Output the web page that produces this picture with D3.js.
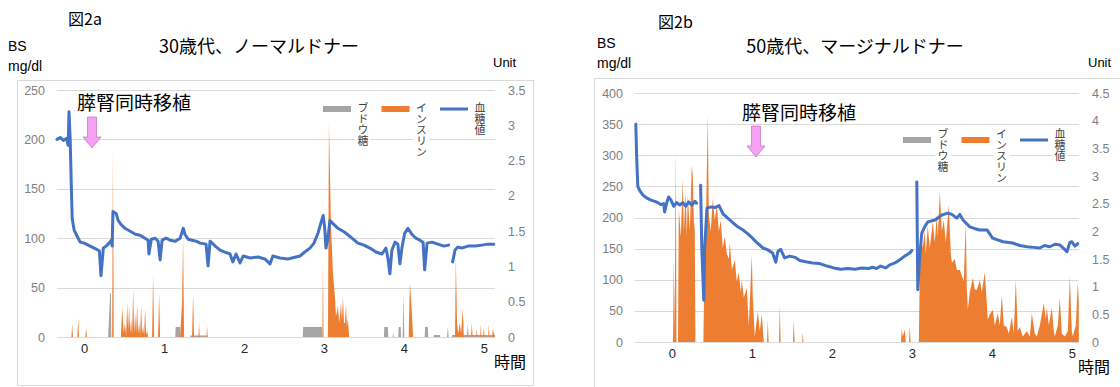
<!DOCTYPE html>
<html>
<head>
<meta charset="utf-8">
<script src="https://cdn.jsdelivr.net/npm/d3@7"></script>
<style>
  body { margin: 0; background: #fff; }
  svg { display: block; }
  .jp { font-family: "Noto Sans CJK JP", sans-serif; }
  .lat { font-family: "Liberation Sans", Arial, sans-serif; }
  .vert { writing-mode: vertical-rl; }
</style>
</head>
<body>
<svg id="chart" width="1120" height="387"></svg>
<script>
// ---- data (time in 時間, BS in mg/dl, insulin / glucose in Unit) ----
const timeTicks = [0, 1, 2, 3, 4, 5];
const bsTicksA = [0, 50, 100, 150, 200, 250];
const unitTicksA = [0, 0.5, 1, 1.5, 2, 2.5, 3, 3.5];
const bsTicksB = [0, 50, 100, 150, 200, 250, 300, 350, 400];
const unitTicksB = [0, 0.5, 1, 1.5, 2, 2.5, 3, 3.5, 4, 4.5];
const legendLabels = ['ブドウ糖', 'インスリン', '血糖値'];

// 図2a  30歳代、ノーマルドナー
const bloodSugarA = [
  [-0.34,200],[-0.30,202],[-0.26,199],[-0.22,201],[-0.20,194],[-0.19,228],[-0.175,200],[-0.16,150],[-0.15,120],
  [-0.125,108],[-0.10,104],[-0.075,100],[-0.05,96],[0,95],[0.05,93],[0.10,91],[0.15,89],[0.19,87],[0.21,62],
  [0.24,90],[0.275,92],[0.31,95],[0.34,98],[0.35,92],[0.36,127],[0.40,125],[0.425,118],[0.46,114],[0.51,110],
  [0.575,107],[0.64,104],[0.70,103],[0.76,100],[0.80,98],[0.81,84],[0.84,99],[0.89,100],[0.925,97],[0.95,78],
  [0.975,98],[1.025,100],[1.075,98],[1.14,97],[1.2,100],[1.24,110],[1.26,104],[1.3,99],[1.35,98],[1.4,97],
  [1.45,95],[1.525,94],[1.55,72],[1.575,97],[1.64,92],[1.7,88],[1.76,86],[1.825,84],[1.86,76],[1.9,84],
  [1.95,75],[1.99,82],[2.075,80],[2.175,81],[2.26,79],[2.325,74],[2.36,82],[2.45,80],[2.55,79],[2.65,81],
  [2.7,82],[2.76,86],[2.825,90],[2.875,95],[2.925,105],[2.96,115],[2.99,123],[3.01,110],[3.025,90],[3.05,100],
  [3.075,118],[3.11,115],[3.175,110],[3.26,106],[3.35,100],[3.425,95],[3.5,93],[3.575,90],[3.65,86],[3.725,84],
  [3.775,90],[3.8,80],[3.825,64],[3.85,88],[3.89,96],[3.925,94],[3.95,74],[3.975,90],[4.01,105],[4.05,110],
  [4.1,104],[4.15,100],[4.2,98],[4.24,96],[4.26,68],[4.29,95],[4.35,96],[4.425,94],[4.5,92],[4.56,93],
  [4.59,null],[4.61,76],[4.64,88],[4.675,91],[4.725,90],[4.8,92],[4.89,92],[4.975,93],[5.05,94],[5.125,94]
];
const insulinA = [
  [-0.34,0],[-0.16,0],[-0.15,0.18],[-0.14,0],[-0.085,0],[-0.075,0.27],[-0.065,0],[0.015,0],[0.025,0.13],[0.035,0],
  [0.35,0],[0.36,2.62],[0.37,0],
  [0.46,0],[0.475,0.42],[0.495,0.05],[0.51,0.2],[0.525,0.02],[0.5375,0.48],[0.55,0.1],[0.5625,0.44],[0.575,0.05],
  [0.5875,0.25],[0.6,0.03],[0.6125,0.68],[0.625,0.05],[0.6375,0.34],[0.65,0.05],[0.6625,0.45],[0.675,0.05],
  [0.6875,0.2],[0.7,0.02],[0.7125,0.45],[0.725,0.05],[0.7375,0.15],[0.75,0.02],[0.7625,0.4],[0.775,0.03],
  [0.7875,0.1],[0.8,0],
  [0.85,0],[0.8625,0.9],[0.875,0],[0.925,0],[0.9375,0.62],[0.95,0],
  [1.2,0],[1.225,0.5],[1.2375,1.42],[1.25,0],[1.35,0],[1.3625,0.62],[1.375,0],[1.43,0],[1.4375,0.21],[1.445,0],
  [1.53,0],[1.5375,0.16],[1.545,0],
  [2.98,0],[2.9875,1.05],[2.995,0],[3.05,0],[3.0625,3.03],[3.0875,1.6],[3.1125,0.9],[3.1375,0.57],[3.15,0.3],
  [3.1625,0.35],[3.175,0.45],[3.19,0.2],[3.2,0.3],[3.2125,0.48],[3.225,0.25],[3.2375,0.57],[3.25,0.2],
  [3.2625,0.2],[3.275,0.45],[3.2875,0.15],[3.3,0.26],[3.315,0],
  [4.06,0],[4.075,0.76],[4.1,0.35],[4.115,0],
  [4.64,0],[4.65,1.12],[4.665,0.2],[4.68,0.05],[4.7,0.2],[4.715,0.05],[4.7375,0.4],[4.75,0],[4.79,0],[4.8,0.18],
  [4.81,0],[4.84,0],[4.85,0.2],[4.86,0],[4.905,0],[4.9125,0.12],[4.92,0],[4.955,0],[4.9625,0.18],[4.97,0],
  [4.99,0],[5.0,0.12],[5.01,0],[5.055,0],[5.0625,0.18],[5.07,0],[5.105,0],[5.1125,0.12],[5.125,0.05],[5.14,0]
];
const glucoseA = [
  [-0.34,0],[0.3,0],[0.325,0.62],[0.335,0.62],[0.34,0],
  [1.14,0],[1.145,0.14],[1.2,0.14],[1.205,0],[1.325,0],[1.33,0.02],[1.535,0.02],[1.54,0],
  [2.735,0],[2.74,0.14],[2.975,0.14],[2.98,0],
  [3.75,0],[3.755,0.14],[3.8,0.14],[3.805,0],[3.86,0],[3.865,0.06],[3.875,0],
  [3.93,0],[3.935,0.14],[3.96,0.14],[3.965,0],[3.985,0],[3.995,0.62],[4.005,0],
  [4.26,0],[4.265,0.14],[4.3,0.14],[4.305,0],[4.37,0],[4.375,0.03],[4.45,0.03],[4.455,0],
  [4.54,0],[4.55,0.14],[4.56,0],[4.6,0],[4.605,0.03],[5.14,0.03]
];

// 図2b  50歳代、マージナルドナー
const bloodSugarB = [
  [-0.45,350],[-0.44,300],[-0.425,250],[-0.40,243],[-0.36,236],[-0.31,231],[-0.26,228],[-0.21,226],[-0.175,224],
  [-0.14,221],[-0.10,222],[-0.09,209],[-0.06,225],[-0.04,233],[-0.01,228],[0.025,218],[0.06,224],[0.10,220],
  [0.14,224],[0.175,218],[0.21,225],[0.25,220],[0.29,226],[0.31,223],[0.335,null],[0.36,252],[0.375,150],
  [0.40,67],[0.41,150],[0.44,215],[0.49,217],[0.54,216],[0.59,219],[0.64,206],[0.70,199],[0.76,192],[0.825,185],
  [0.89,180],[0.94,175],[1.0,168],[1.06,160],[1.14,151],[1.2,148],[1.26,143],[1.3,128],[1.325,145],[1.36,149],
  [1.41,135],[1.475,138],[1.54,136],[1.6,131],[1.675,129],[1.76,127],[1.85,126],[1.94,122],[2.025,119],
  [2.11,117],[2.2,118],[2.29,117],[2.375,119],[2.46,118],[2.51,120],[2.56,118],[2.61,122],[2.675,119],
  [2.725,124],[2.79,127],[2.85,132],[2.91,138],[2.975,143],[3.0,147],[3.03,null],[3.0625,257],[3.075,84],
  [3.1,140],[3.125,175],[3.16,185],[3.2,193],[3.29,196],[3.375,204],[3.45,207],[3.5,205],[3.5625,199],[3.6,205],
  [3.64,196],[3.725,185],[3.79,182],[3.85,180],[3.94,180],[4.01,167],[4.14,161],[4.26,159],[4.35,155],
  [4.44,153],[4.525,152],[4.6,151],[4.66,155],[4.725,153],[4.79,157],[4.85,156],[4.9,150],[4.94,145],
  [4.975,160],[5.0,161],[5.04,154],[5.075,158]
];
const insulinB = [
  [-0.46,0],[0.015,0],[0.025,1.5],[0.035,0.2],[0.05,3.5],[0.058,0],[0.078,0],[0.0875,2.4],[0.1125,1.9],
  [0.1375,2.93],[0.15,2.0],[0.175,2.7],[0.1875,1.9],[0.2,2.66],[0.225,2.0],[0.25,3.2],[0.2625,3.0],[0.275,2.2],
  [0.2875,2.0],[0.295,0],
  [0.395,0],[0.41,1.6],[0.425,2.0],[0.45,4.1],[0.4625,2.3],[0.4875,2.0],[0.5125,2.6],[0.5375,2.2],[0.5625,2.5],
  [0.5875,2.0],[0.6125,2.2],[0.6375,1.7],[0.6625,1.9],[0.6875,1.6],[0.7125,1.5],[0.725,1.8],[0.75,1.3],
  [0.7875,1.48],[0.8125,1.1],[0.8375,1.25],[0.8625,0.9],[0.875,1.12],[0.9,0.8],[0.9375,0.97],[0.9625,0.3],
  [1.0,1.57],[1.0125,0.8],[1.0375,0.1],[1.075,0.55],[1.1,0.2],[1.125,0.5],[1.15,0],[1.19,0],[1.2,0.4],[1.21,0],
  [1.34,0],[1.35,0.67],[1.36,0],[1.515,0],[1.525,0.4],[1.535,0],[1.63,0],[1.6375,0.18],[1.645,0],
  [2.865,0],[2.875,0.25],[2.8875,0.1],[2.9125,0.22],[2.925,0],[2.965,0],[2.975,0.3],[2.985,0],
  [3.0875,0],[3.1,1.2],[3.1125,1.9],[3.1375,1.7],[3.1625,2.0],[3.175,1.6],[3.2,2.1],[3.225,1.7],[3.2625,2.17],
  [3.2875,1.8],[3.3125,2.3],[3.325,1.9],[3.35,2.71],[3.375,2.0],[3.4,2.2],[3.425,1.8],[3.4625,2.48],[3.4875,1.6],
  [3.5,1.43],[3.5375,1.5],[3.5625,1.3],[3.6,1.3],[3.625,1.2],[3.65,1.1],[3.675,2.17],[3.6875,1.0],[3.7,0.58],
  [3.725,0.9],[3.7625,1.16],[3.7875,0.95],[3.8125,0.94],[3.85,1.12],[3.875,0.9],[3.9125,1.26],[3.9375,0.7],
  [3.95,0.4],[3.975,0.5],[4.0125,0.58],[4.0375,0.3],[4.075,0.52],[4.1,0.3],[4.125,0.85],[4.15,0.3],[4.1875,0.27],
  [4.2125,0.15],[4.25,0.45],[4.275,0.15],[4.3,1.12],[4.325,0.2],[4.35,0.27],[4.3875,0.1],[4.4375,0.2],[4.475,0.1],
  [4.5,0.52],[4.5375,0.15],[4.5625,0.1],[4.6,0.3],[4.65,0.7],[4.675,0.4],[4.6875,0.63],[4.7125,0.3],[4.75,0.62],
  [4.775,0.2],[4.7875,0.1],[4.825,0.3],[4.85,0.8],[4.875,0.15],[4.9125,0.1],[4.95,0.2],[4.975,1.18],[5.0,0.2],
  [5.0125,0.1],[5.05,0.3],[5.075,1.08],[5.0875,0.7]
];
const glucoseB = [];

// ---- layout ----
const panels = [
  {
    figLabel: '図2a', figPos: [68, 25], title: '30歳代、ノーマルドナー', titleX: 259,
    bsPos: [8, 51], unitPos: [493, 67],
    frame: [17, 80, 516, 305], xRange: [57, 495], yRange: [337, 90],
    xDomain: [-0.34, 5.14], bsMax: 250, unitMax: 3.5,
    bsTicks: bsTicksA, unitTicks: unitTicksA,
    bloodSugar: bloodSugarA, insulin: insulinA, glucose: glucoseA,
    notePos: [77, 110], arrow: [92, 117, 148],
    legend: [323, 109, 102]
  },
  {
    figLabel: '図2b', figPos: [658, 28], title: '50歳代、マージナルドナー', titleX: 855,
    bsPos: [597, 48], unitPos: [1088, 67],
    frame: [594, 78, 540, 320], xRange: [635, 1079], yRange: [342, 93],
    xDomain: [-0.46, 5.09], bsMax: 400, unitMax: 4.5,
    bsTicks: bsTicksB, unitTicks: unitTicksB,
    bloodSugar: bloodSugarB, insulin: insulinB, glucose: glucoseB,
    notePos: [742, 120], arrow: [756, 126, 157],
    legend: [903, 140, 128]
  }
];

const COLORS = { blue: '#4472C4', orange: '#ED7D31', gray: '#A5A5A5', grid: '#d9d9d9', frame: '#d9d9d9' };
const svg = d3.select('#chart');

function drawPanel(p) {
  const g = svg.append('g');
  const x = d3.scaleLinear().domain(p.xDomain).range(p.xRange);
  const yBS = d3.scaleLinear().domain([0, p.bsMax]).range(p.yRange);
  const yU = d3.scaleLinear().domain([0, p.unitMax]).range(p.yRange);

  // frame
  g.append('rect')
    .attr('x', p.frame[0] + 0.5).attr('y', p.frame[1] + 0.5)
    .attr('width', p.frame[2]).attr('height', p.frame[3])
    .attr('fill', 'none').attr('stroke', COLORS.frame);

  // header texts
  g.append('text').attr('class', 'jp').attr('x', p.figPos[0]).attr('y', p.figPos[1])
    .attr('font-size', 16).attr('fill', '#000').text(p.figLabel);
  g.append('text').attr('class', 'jp').attr('x', p.titleX).attr('y', 53)
    .attr('text-anchor', 'middle').attr('font-size', 18).attr('fill', '#000').text(p.title);
  g.append('text').attr('class', 'lat').attr('x', p.bsPos[0]).attr('y', p.bsPos[1])
    .attr('font-size', 14).attr('fill', '#000').text('BS');
  g.append('text').attr('class', 'lat').attr('x', p.bsPos[0]).attr('y', p.bsPos[1] + 20)
    .attr('font-size', 14).attr('fill', '#000').text('mg/dl');
  g.append('text').attr('class', 'lat').attr('x', p.unitPos[0]).attr('y', p.unitPos[1])
    .attr('font-size', 13).attr('fill', '#000').text('Unit');

  // gridlines
  g.append('g').selectAll('line').data(p.bsTicks).join('line')
    .attr('x1', p.xRange[0]).attr('x2', p.xRange[1])
    .attr('y1', d => Math.round(yBS(d)) + 0.5).attr('y2', d => Math.round(yBS(d)) + 0.5)
    .attr('stroke', COLORS.grid);

  // axes
  const leftAxis = g.append('g').attr('transform', `translate(${p.xRange[0]},0)`)
    .call(d3.axisLeft(yBS).tickValues(p.bsTicks).tickSize(0).tickPadding(12));
  const rightAxis = g.append('g').attr('transform', `translate(${p.xRange[1]},0)`)
    .call(d3.axisRight(yU).tickValues(p.unitTicks).tickSize(0).tickPadding(13).tickFormat(d => String(d)));
  const bottomAxis = g.append('g').attr('transform', `translate(0,${p.yRange[0]})`)
    .call(d3.axisBottom(x).tickValues(timeTicks).tickSize(0).tickPadding(7).tickFormat(d => String(d)));
  [leftAxis, rightAxis, bottomAxis].forEach(a => {
    a.select('.domain').remove();
    a.selectAll('text').attr('font-family', '"Liberation Sans", Arial, sans-serif').attr('font-size', 12.5);
  });
  leftAxis.selectAll('text').attr('fill', '#7f7f7f');
  rightAxis.selectAll('text').attr('fill', '#7f7f7f');
  bottomAxis.selectAll('text').attr('fill', '#262626').attr('font-size', 13);

  g.append('text').attr('class', 'jp').attr('x', p.xRange[1] - 1).attr('y', p.yRange[0] + 31)
    .attr('font-size', 16).attr('fill', '#000').text('時間');

  // series
  const area = d3.area().x(d => x(d[0])).y0(yU(0)).y1(d => yU(d[1]));
  if (p.glucose.length) {
    g.append('path').datum(p.glucose).attr('d', area).attr('fill', COLORS.gray);
  }
  g.append('path').datum(p.insulin).attr('d', area).attr('fill', COLORS.orange);
  const line = d3.line().defined(d => d[1] !== null).x(d => x(d[0])).y(d => yBS(d[1]));
  g.append('path').datum(p.bloodSugar).attr('d', line)
    .attr('fill', 'none').attr('stroke', COLORS.blue).attr('stroke-width', 3)
    .attr('stroke-linejoin', 'round').attr('stroke-linecap', 'round');

  // legend with vertical labels
  const [lx, ly, textTop] = p.legend;
  const step = 58.5;
  legendLabels.forEach((label, i) => {
    const sx = lx + i * step;
    const tx = sx + 40;
    const n = Array.from(label).length;
    g.append('rect').attr('x', tx - 8).attr('y', textTop - 2)
      .attr('width', 16).attr('height', n * 11 + 4).attr('fill', '#fff');
    if (i < 2) {
      g.append('rect').attr('x', sx).attr('y', ly - 3).attr('width', 28).attr('height', 6)
        .attr('fill', i === 0 ? COLORS.gray : COLORS.orange);
    } else {
      g.append('line').attr('x1', sx).attr('x2', sx + 28).attr('y1', ly).attr('y2', ly)
        .attr('stroke', COLORS.blue).attr('stroke-width', 3);
    }
    g.append('text').attr('class', 'jp vert')
      .attr('x', tx).attr('y', textTop)
      .attr('font-size', 11).attr('fill', '#404040')
      .text(label);
  });

  // annotation
  g.append('text').attr('class', 'jp').attr('x', p.notePos[0]).attr('y', p.notePos[1])
    .attr('font-size', 19).attr('fill', '#000').text('膵腎同時移植');
  const [ax, aTop, aBot] = p.arrow;
  const headTop = aBot - 11;
  const pts = [[ax - 4.5, aTop], [ax + 4.5, aTop], [ax + 4.5, headTop], [ax + 9, headTop],
               [ax, aBot], [ax - 9, headTop], [ax - 4.5, headTop]];
  g.append('path').attr('d', d3.line()(pts) + 'Z')
    .attr('fill', '#F5A0F2').attr('stroke', '#c77ec4').attr('stroke-width', 0.8);
}

panels.forEach(drawPanel);
</script>
</body>
</html>
